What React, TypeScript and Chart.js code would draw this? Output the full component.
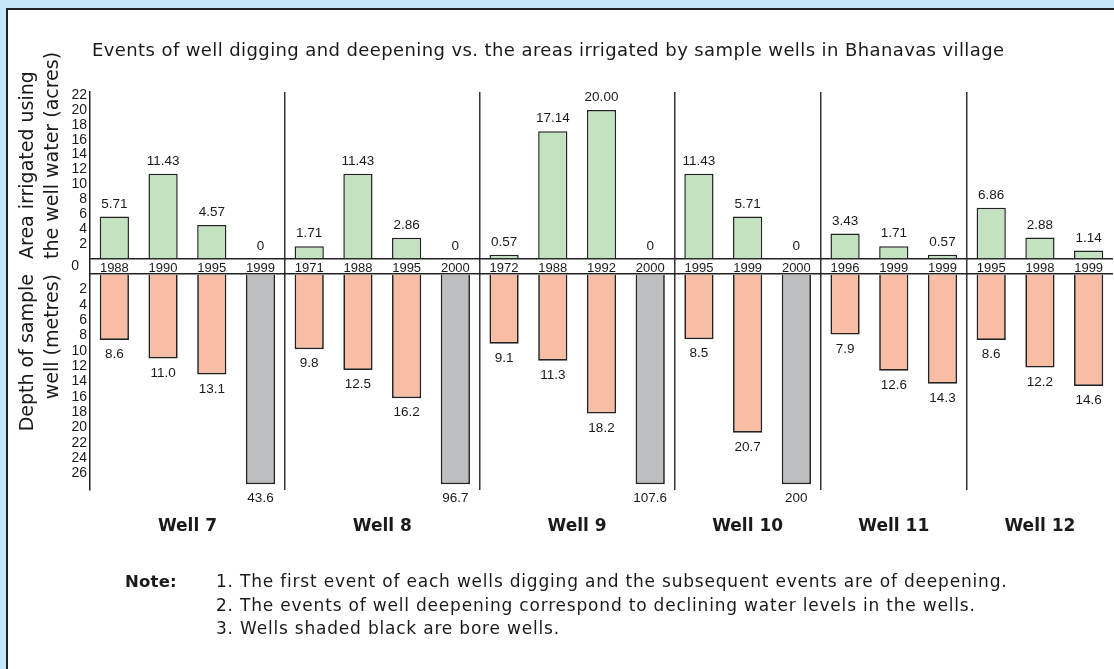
import React, { useEffect, useRef } from 'react';
import { Chart, registerables } from 'chart.js';

Chart.register(...registerables);

// ---------- data ----------
const chartTitle =
  'Events of well digging and deepening vs. the areas irrigated by sample wells in Bhanavas village';
const wells = ['Well 7', 'Well 8', 'Well 9', 'Well 10', 'Well 11', 'Well 12'];
const eventsPerWell = [4, 4, 4, 3, 3, 3];
const eventYears = [
  '1988', '1990', '1995', '1999',
  '1971', '1988', '1995', '2000',
  '1972', '1988', '1992', '2000',
  '1995', '1999', '2000',
  '1996', '1999', '1999',
  '1995', '1998', '1999',
];
const areaIrrigated = [
  5.71, 11.43, 4.57, 0,
  1.71, 11.43, 2.86, 0,
  0.57, 17.14, 20.0, 0,
  11.43, 5.71, 0,
  3.43, 1.71, 0.57,
  6.86, 2.88, 1.14,
];
const wellDepth = [
  8.6, 11.0, 13.1, 43.6,
  9.8, 12.5, 16.2, 96.7,
  9.1, 11.3, 18.2, 107.6,
  8.5, 20.7, 200,
  7.9, 12.6, 14.3,
  8.6, 12.2, 14.6,
];
const isBoreWell = [
  false, false, false, true,
  false, false, false, true,
  false, false, false, true,
  false, false, true,
  false, false, false,
  false, false, false,
];
const areaTickLabels = [2, 4, 6, 8, 10, 12, 14, 16, 18, 20, 22];
const depthTickLabels = [2, 4, 6, 8, 10, 12, 14, 16, 18, 20, 22, 24, 26];
const areaAxisTitle = ['Area irrigated using', 'the well water (acres)'];
const depthAxisTitle = ['Depth of sample', 'well (metres)'];
const noteLabel = 'Note:';
const noteLines = [
  '1. The first event of each wells digging and the subsequent events are of deepening.',
  '2. The events of well deepening correspond to declining water levels in the wells.',
  '3. Wells shaded black are bore wells.',
];

// axis ranges (the depth axis is broken at DEPTH_BREAK; deeper bore wells stop there)
const AREA_AXIS_MAX = 22.4;
const DEPTH_AXIS_MAX = 28.16;
const DEPTH_BREAK = 27.4;

// ---------- style ----------
const GREEN = '#c3e3c0';
const SALMON = '#f8bda5';
const GREY = '#bdbec0';
const EDGE = '#222222';
const TEXT = '#1a1a1a';
const SANS = '"DejaVu Sans", sans-serif';
const NUM = '"Liberation Sans", Arial, sans-serif';

const fmtArea = (v: number) => (v === 0 ? '0' : v.toFixed(2));
const fmtDepth = (v: number) => (v >= 100 && Number.isInteger(v) ? String(v) : v.toFixed(1));

const boundaries: number[] = [];
{
  let acc = 0;
  eventsPerWell.slice(0, -1).forEach((n) => {
    acc += n;
    boundaries.push(acc);
  });
}

const overlay = {
  id: 'overlay',
  afterDatasetsDraw(chart: any) {
    const { ctx } = chart;
    const x = chart.scales.x;
    const yTop = chart.scales.yTop;
    const yMid = chart.scales.yMid;
    const areaMeta = chart.getDatasetMeta(0);
    const depthMeta = chart.getDatasetMeta(1);
    ctx.save();
    ctx.fillStyle = TEXT;
    ctx.textBaseline = 'middle';

    // title
    ctx.textAlign = 'left';
    ctx.font = `18px ${SANS}`;
    try {
      (ctx as any).letterSpacing = '0.4px';
    } catch (e) {
      /* ignore */
    }
    ctx.fillText(chartTitle, chart.chartArea.left + 2, 51.5);
    try {
      (ctx as any).letterSpacing = '0px';
    } catch (e) {
      /* ignore */
    }

    ctx.textAlign = 'center';
    ctx.font = `13px ${NUM}`;
    const midY = yMid.getPixelForValue(0) + 1.5;
    eventYears.forEach((yr, i) => ctx.fillText(yr, x.getPixelForValue(i), midY));

    ctx.font = `13.5px ${NUM}`;
    areaIrrigated.forEach((v, i) => {
      const base = yTop.getPixelForValue(0);
      const el = areaMeta.data[i];
      const top = v === 0 || !el ? base : Math.min(el.y, base);
      ctx.fillText(fmtArea(v), x.getPixelForValue(i), top - 12.5);
    });
    wellDepth.forEach((d, i) => {
      const el = depthMeta.data[i];
      ctx.fillText(fmtDepth(d), x.getPixelForValue(i), el.y + 14.5);
    });

    ctx.font = `bold 17px ${SANS}`;
    let start = 0;
    wells.forEach((w, k) => {
      const n = eventsPerWell[k];
      const cx = (x.getPixelForValue(start) + x.getPixelForValue(start + n - 1)) / 2;
      ctx.fillText(w, cx, chart.chartArea.bottom + 37);
      start += n;
    });
    ctx.restore();
  },
};

const yAxisCommon = {
  type: 'linear' as const,
  position: 'left' as const,
  stack: 'panels',
  border: { color: EDGE, width: 1.5 },
  afterFit: (s: any) => {
    s.width = 90;
  },
};

const tickFont = { family: NUM, size: 14 };

export default function App() {
  const canvasRef = useRef<HTMLCanvasElement | null>(null);

  useEffect(() => {
    const canvas = canvasRef.current;
    if (!canvas) return;
    const chart = new Chart(canvas, {
      type: 'bar',
      data: {
        labels: eventYears,
        datasets: [
          {
            label: 'Area irrigated (acres)',
            data: areaIrrigated,
            yAxisID: 'yTop',
            backgroundColor: GREEN,
            borderColor: EDGE,
            borderWidth: 1.5,
            borderSkipped: 'start',
            grouped: false,
            barPercentage: 0.6,
            categoryPercentage: 1,
          },
          {
            label: 'Depth of well (m)',
            data: wellDepth.map((d) => -Math.min(d, DEPTH_BREAK)),
            yAxisID: 'yBot',
            backgroundColor: isBoreWell.map((b) => (b ? GREY : SALMON)),
            borderColor: EDGE,
            borderWidth: 1.7,
            borderSkipped: 'start',
            grouped: false,
            barPercentage: 0.6,
            categoryPercentage: 1,
          },
        ],
      } as any,
      options: {
        responsive: false,
        animation: false,
        events: [],
        layout: { padding: { top: 92, left: 0, right: 1, bottom: 179 } },
        plugins: {
          legend: { display: false },
          tooltip: { enabled: false },
          title: { display: false },
        },
        scales: {
          x: {
            type: 'category',
            offset: true,
            ticks: { display: false, autoSkip: false },
            border: { display: false },
            grid: {
              offset: true,
              drawTicks: false,
              lineWidth: 1.5,
              color: (c: any) =>
                c.index !== undefined && boundaries.includes(c.index) ? '#333333' : 'rgba(0,0,0,0)',
            },
          },
          yTop: {
            ...yAxisCommon,
            stackWeight: 167,
            weight: 3,
            min: 0,
            max: AREA_AXIS_MAX,
            afterBuildTicks: (s: any) => {
              s.ticks = [0, ...areaTickLabels].map((v) => ({ value: v }));
            },
            ticks: {
              autoSkip: false,
              padding: 3,
              color: TEXT,
              font: tickFont,
              callback: (v: any) => (v === 0 ? '' : String(v)),
            },
            grid: {
              drawTicks: false,
              lineWidth: 1.5,
              color: (c: any) => (c.tick && c.tick.value === 0 ? EDGE : 'rgba(0,0,0,0)'),
            },
            title: {
              display: true,
              text: areaAxisTitle,
              align: 'start',
              color: TEXT,
              font: { family: SANS, size: 19, lineHeight: 1.3 },
              padding: { top: 15.6, bottom: 0 },
            },
          },
          yMid: {
            ...yAxisCommon,
            stackWeight: 15,
            weight: 2,
            min: -1,
            max: 1,
            afterBuildTicks: (s: any) => {
              s.ticks = [{ value: 0 }];
            },
            ticks: {
              autoSkip: false,
              padding: 3,
              color: TEXT,
              font: tickFont,
              callback: () => '0',
            },
            grid: { display: false },
          },
          yBot: {
            ...yAxisCommon,
            stackWeight: 216,
            weight: 1,
            min: -DEPTH_AXIS_MAX,
            max: 0,
            afterBuildTicks: (s: any) => {
              s.ticks = [0, ...depthTickLabels].map((v) => ({ value: -v }));
            },
            ticks: {
              autoSkip: false,
              padding: 3,
              color: TEXT,
              font: tickFont,
              callback: (v: any) => (v === 0 ? '' : String(Math.abs(v))),
            },
            grid: {
              drawTicks: false,
              lineWidth: 1.5,
              color: (c: any) => (c.tick && c.tick.value === 0 ? EDGE : 'rgba(0,0,0,0)'),
            },
            title: {
              display: true,
              text: depthAxisTitle,
              align: 'end',
              color: TEXT,
              font: { family: SANS, size: 19, lineHeight: 1.3 },
              padding: { top: 15.6, bottom: 0 },
            },
          },
        },
      } as any,
      plugins: [overlay],
    });
    return () => chart.destroy();
  }, []);

  return (
    <div
      style={{
        position: 'fixed',
        left: 0,
        top: 0,
        width: 1114,
        height: 669,
        background: '#c6e7f7',
        overflow: 'hidden',
      }}
    >
      <div
        style={{
          position: 'absolute',
          left: 6,
          top: 8,
          width: 1120,
          height: 680,
          background: '#ffffff',
          borderLeft: '2px solid #222',
          borderTop: '2px solid #222',
        }}
      />
      <canvas
        ref={canvasRef}
        width={1114}
        height={669}
        style={{ position: 'absolute', left: 0, top: 0, width: 1114, height: 669 }}
      />
      <div
        style={{
          position: 'absolute',
          left: 125,
          top: 570,
          fontFamily: SANS,
          fontWeight: 'bold',
          fontSize: 16.5,
          letterSpacing: '0.2px',
          lineHeight: '23.7px',
          color: TEXT,
        }}
      >
        {noteLabel}
      </div>
      <div
        style={{
          position: 'absolute',
          left: 216,
          top: 570,
          fontFamily: SANS,
          fontSize: 17,
          letterSpacing: '0.8px',
          lineHeight: '23.7px',
          color: TEXT,
          whiteSpace: 'nowrap',
        }}
      >
        {noteLines.map((l) => (
          <div key={l}>{l}</div>
        ))}
      </div>
    </div>
  );
}
